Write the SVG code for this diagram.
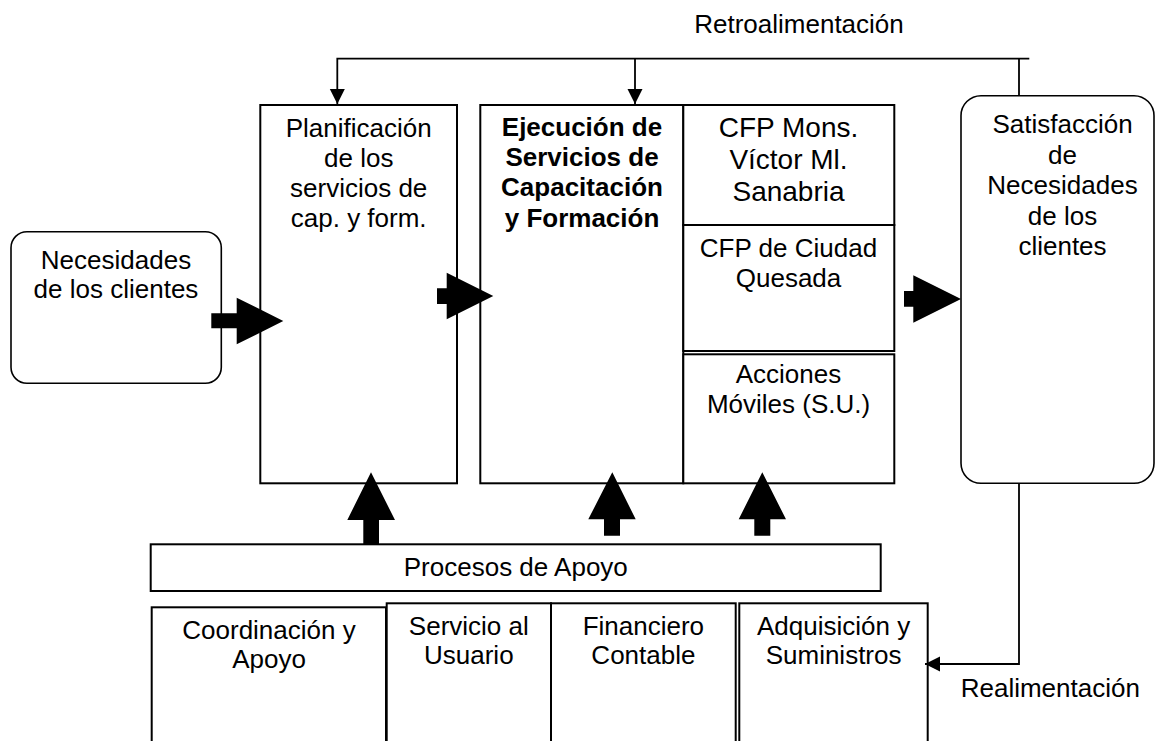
<svg xmlns="http://www.w3.org/2000/svg" width="1155" height="741" viewBox="0 0 1155 741">
<style>
.box{fill:#fff;stroke:#000;stroke-width:2}
.rbox{fill:#fff;stroke:#000;stroke-width:1.6}
text{font-family:"Liberation Sans",Arial,sans-serif;font-size:26px;fill:#000;text-anchor:middle}
.b{font-weight:bold}
.big{font-size:28px}
.line{fill:none;stroke:#000;stroke-width:1.8}
.blk{fill:#000;stroke:none}
</style>
<defs>
<marker id="ah" markerUnits="userSpaceOnUse" markerWidth="16" markerHeight="16" viewBox="0 0 16 16" refX="15" refY="8" orient="auto">
<path d="M0,0.5 L15,8 L0,15.5 Z" fill="#000"/>
</marker>
</defs>
<rect width="1155" height="741" fill="#fff"/>
<g id="necesidades">
<rect class="rbox" x="11" y="231.7" width="210.3" height="151.6" rx="16"/>
<text x="116" y="269.3">Necesidades</text>
<text x="116" y="298.3">de los clientes</text>
</g>
<g id="planificacion">
<rect class="box" x="260.3" y="105" width="196.7" height="378.3"/>
<text x="358.7" y="136.7">Planificación</text>
<text x="358.7" y="166.7">de los</text>
<text x="358.7" y="196.7">servicios de</text>
<text x="358.7" y="226.7">cap. y form.</text>
</g>
<g id="ejecucion">
<rect class="box" x="480.3" y="105" width="203" height="378.3"/>
<text class="b" x="582" y="135.5">Ejecución de</text>
<text class="b" x="582" y="165.8">Servicios de</text>
<text class="b" x="582" y="196">Capacitación</text>
<text class="b" x="582" y="226.5">y Formación</text>
</g>
<g id="cfp-mons">
<rect class="box" x="683.3" y="105" width="211" height="120"/>
<text class="big" x="788.5" y="136.7">CFP Mons.</text>
<text class="big" x="788.5" y="168.8">Víctor Ml.</text>
<text class="big" x="788.5" y="200.5">Sanabria</text>
</g>
<g id="cfp-quesada">
<rect class="box" x="683.3" y="225" width="211" height="126"/>
<text x="788.5" y="256.7">CFP de Ciudad</text>
<text x="788.5" y="286.7">Quesada</text>
</g>
<g id="acciones">
<rect class="box" x="683.3" y="354.3" width="211" height="129"/>
<text x="788.5" y="383.3">Acciones</text>
<text x="788.5" y="413.3">Móviles (S.U.)</text>
</g>
<g id="satisfaccion">
<rect class="rbox" x="961" y="95.7" width="193" height="387.6" rx="20"/>
<text x="1062.5" y="133.3">Satisfacción</text>
<text x="1062.5" y="163.6">de</text>
<text x="1062.5" y="194.2">Necesidades</text>
<text x="1062.5" y="224.8">de los</text>
<text x="1062.5" y="255.2">clientes</text>
</g>
<g id="procesos-apoyo">
<rect class="box" x="150.7" y="544.3" width="730" height="46.7"/>
<text x="515.8" y="575.7">Procesos de Apoyo</text>
</g>
<g id="coordinacion">
<rect class="box" x="151.7" y="607.3" width="234.3" height="160"/>
<text x="269" y="639.3">Coordinación y</text>
<text x="269" y="668.3">Apoyo</text>
</g>
<g id="servicio">
<rect class="box" x="386.7" y="603.3" width="164.3" height="160"/>
<text x="468.8" y="635">Servicio al</text>
<text x="468.8" y="664.3">Usuario</text>
</g>
<g id="financiero">
<rect class="box" x="551" y="603.3" width="184.7" height="160"/>
<text x="643.4" y="635">Financiero</text>
<text x="643.4" y="664.3">Contable</text>
</g>
<g id="adquisicion">
<rect class="box" x="739.3" y="603.3" width="188.4" height="160"/>
<text x="833.6" y="635">Adquisición y</text>
<text x="833.6" y="664.3">Suministros</text>
</g>
<g id="connectors">
<polyline class="line" points="1029.3,58.7 337.3,58.7 337.3,104" marker-end="url(#ah)"/>
<line class="line" x1="635" y1="58.7" x2="635" y2="104" marker-end="url(#ah)"/>
<line class="line" x1="1019" y1="58.7" x2="1019" y2="95.7"/>
<polyline class="line" points="1019,483.3 1019,664 925,664" marker-end="url(#ah)"/>
<polygon class="blk" points="211.3,313.3 236.7,313.3 236.7,297.7 283.3,321 236.7,344.3 236.7,328.3 211.3,328.3"/>
<polygon class="blk" points="437,288.3 446.7,288.3 446.7,272.7 493.3,296 446.7,319.3 446.7,304 437,304"/>
<polygon class="blk" points="904,291 913.3,291 913.3,275.3 961,299 913.3,322.7 913.3,306.7 904,306.7"/>
<polygon class="blk" points="371,472.3 395,520 379,520 379,544.3 363.3,544.3 363.3,520 347.3,520"/>
<polygon class="blk" points="612.3,472.3 635.7,519.3 620,519.3 620,535.7 604,535.7 604,519.3 588.3,519.3"/>
<polygon class="blk" points="762.3,472.3 786,519.3 770.3,519.3 770.3,535.7 754.3,535.7 754.3,519.3 738.7,519.3"/>
</g>
<text x="799" y="33.3">Retroalimentación</text>
<text x="1050.3" y="697.3">Realimentación</text>
</svg>
